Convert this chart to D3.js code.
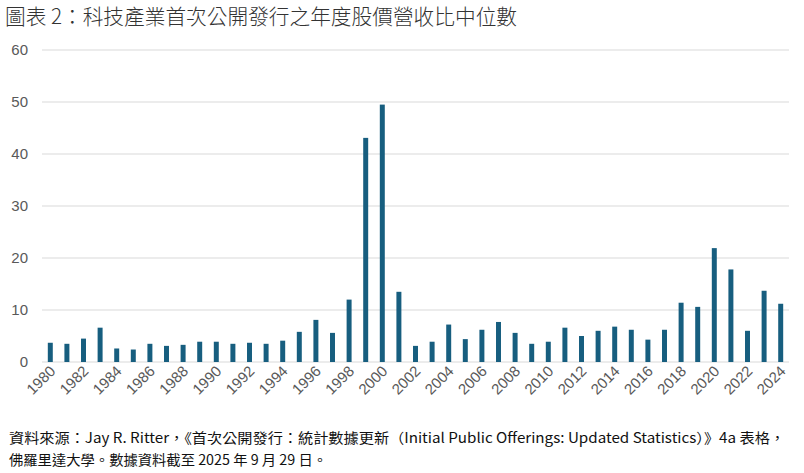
<!DOCTYPE html>
<html>
<head>
<meta charset="utf-8">
<script src="https://cdn.jsdelivr.net/npm/d3@7"></script>
<style>
  body { margin: 0; background: #fff; }
  svg { display: block; }
</style>
</head>
<body>
<script>
// data
var years = [];
for (var yr = 1980; yr <= 2024; yr++) years.push(yr);
var ratios = [3.7, 3.5, 4.5, 6.6, 2.6, 2.4, 3.5, 3.1, 3.3, 3.9,
              3.9, 3.5, 3.7, 3.5, 4.1, 5.8, 8.1, 5.6, 12.0, 43.1,
              49.5, 13.5, 3.1, 3.9, 7.2, 4.4, 6.2, 7.7, 5.6, 3.5,
              3.9, 6.6, 5.0, 6.0, 6.8, 6.2, 4.3, 6.2, 11.4, 10.6,
              21.9, 17.8, 6.0, 13.7, 11.2];
var yTicks = [0, 10, 20, 30, 40, 50, 60];
var title = '圖表 2：科技產業首次公開發行之年度股價營收比中位數';
var source = ['資料來源：Jay R. Ritter，《首次公開發行：統計數據更新（Initial Public Offerings: Updated Statistics）》4a 表格，',
              '佛羅里達大學。數據資料截至 2025 年 9 月 29 日。'];

var W = 804, H = 473;
var plotL = 42, plotR = 789, plotT = 50, plotB = 362;

var svg = d3.select('body').append('svg')
    .attr('width', W)
    .attr('height', H);

var x = d3.scaleBand().domain(years).range([plotL, plotR]).paddingInner(0.7).paddingOuter(0.35);
var yS = d3.scaleLinear().domain([0, 60]).range([plotB, plotT]);

// title
svg.append('text')
    .attr('x', 5).attr('y', 24)
    .attr('font-family', '"Noto Sans CJK TC", sans-serif')
    .attr('font-size', 21)
    .attr('font-weight', 300)
    .attr('textLength', 512)
    .attr('lengthAdjust', 'spacingAndGlyphs')
    .attr('fill', '#333')
    .text(title);

// gridlines
svg.selectAll('line.grid')
    .data(yTicks).enter().append('line')
    .attr('class', 'grid')
    .attr('x1', plotL).attr('x2', plotR)
    .attr('y1', function(d){ return yS(d); })
    .attr('y2', function(d){ return yS(d); })
    .attr('stroke', '#d9d9d9')
    .attr('stroke-width', 1);

// y labels
svg.selectAll('text.ylab')
    .data(yTicks).enter().append('text')
    .attr('class', 'ylab')
    .attr('x', 28)
    .attr('y', function(d){ return yS(d) + 5; })
    .attr('text-anchor', 'end')
    .attr('font-family', '"Liberation Sans", Arial, sans-serif')
    .attr('font-size', 15)
    .attr('fill', '#595959')
    .text(function(d){ return d; });

// bars
svg.selectAll('rect')
    .data(ratios).enter().append('rect')
    .attr('x', function(d, i){ return x(years[i]); })
    .attr('width', x.bandwidth())
    .attr('y', function(d){ return yS(d); })
    .attr('height', function(d){ return plotB - yS(d); })
    .attr('fill', '#175e7f');

// x labels, every other year
svg.selectAll('text.xlab')
    .data(years.filter(function(d){ return d % 2 === 0; }))
    .enter().append('text')
    .attr('class', 'xlab')
    .attr('transform', function(d){
        var cx = x(d) + x.bandwidth() / 2 + 6;
        return 'translate(' + cx + ',372) rotate(-45)';
    })
    .attr('text-anchor', 'end')
    .attr('font-family', '"Liberation Sans", Arial, sans-serif')
    .attr('font-size', 15)
    .attr('fill', '#595959')
    .text(function(d){ return d; });

// source note
svg.selectAll('text.src')
    .data(source).enter().append('text')
    .attr('class', 'src')
    .attr('x', 9)
    .attr('y', function(d, i){ return 443 + i * 22; })
    .attr('font-family', '"Noto Sans CJK TC", sans-serif')
    .attr('font-size', 14)
    .attr('textLength', function(d, i){ return i === 0 ? 776 : 318; })
    .attr('lengthAdjust', 'spacingAndGlyphs')
    .attr('fill', '#111')
    .text(function(d){ return d; });
</script>
</body>
</html>
